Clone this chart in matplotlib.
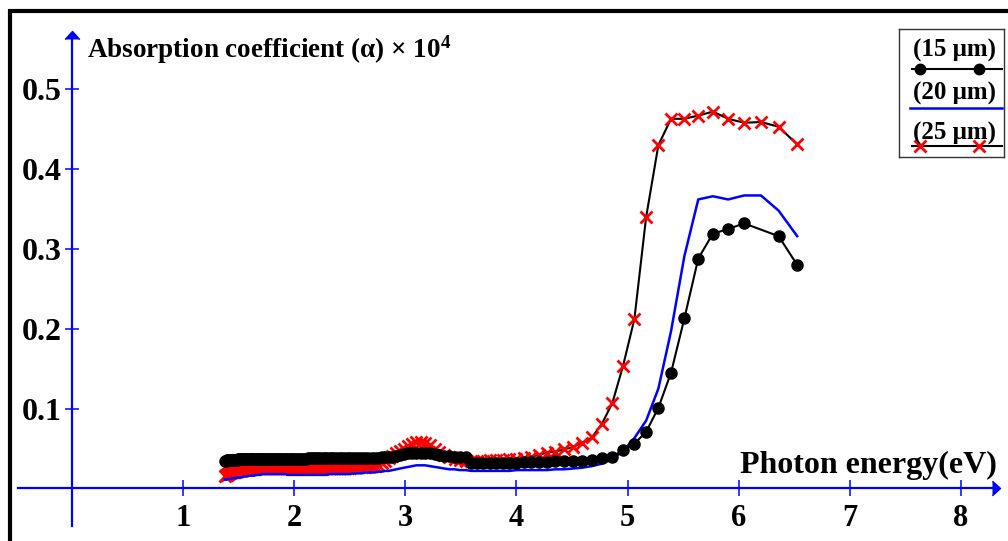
import matplotlib
matplotlib.use("Agg")
import matplotlib.pyplot as plt
import numpy as np
from matplotlib.patches import Rectangle

plt.rcParams["font.family"] = ["Liberation Serif", "DejaVu Serif"]
plt.rcParams["font.weight"] = "bold"
plt.rcParams["mathtext.fontset"] = "custom"
plt.rcParams["mathtext.rm"] = "Liberation Serif:bold"
plt.rcParams["mathtext.default"] = "rm"

# =============================================================================
# Data (photon energy in eV, absorption coefficient x 10^4)
# =============================================================================
ENERGY = [
    1.378, 1.385, 1.393, 1.401, 1.409, 1.417, 1.425, 1.434, 1.442, 1.450,
    1.459, 1.467, 1.476, 1.485, 1.494, 1.503, 1.512, 1.521, 1.531, 1.540,
    1.550, 1.560, 1.570, 1.580, 1.590, 1.600, 1.610, 1.621, 1.632, 1.642,
    1.653, 1.664, 1.676, 1.687, 1.699, 1.710, 1.722, 1.734, 1.746, 1.759,
    1.771, 1.784, 1.797, 1.810, 1.824, 1.837, 1.851, 1.865, 1.879, 1.893,
    1.908, 1.922, 1.938, 1.953, 1.968, 1.984, 2.000, 2.016, 2.033, 2.050,
    2.067, 2.084, 2.102, 2.120, 2.138, 2.157, 2.175, 2.195, 2.214, 2.234,
    2.255, 2.275, 2.296, 2.318, 2.340, 2.362, 2.385, 2.408, 2.431, 2.455,
    2.480, 2.505, 2.531, 2.557, 2.583, 2.611, 2.638, 2.667, 2.696, 2.725,
    2.756, 2.787, 2.818, 2.851, 2.884, 2.918, 2.952, 2.988, 3.024, 3.062,
    3.100, 3.139, 3.179, 3.221, 3.263, 3.307, 3.351, 3.397, 3.444, 3.493, 3.543,
    3.594, 3.647, 3.701, 3.758, 3.815, 3.875, 3.937, 4.000, 4.066,
    4.133, 4.203, 4.276, 4.351, 4.429, 4.509, 4.593, 4.679,
    4.769, 4.863, 4.960, 5.061, 5.167, 5.277, 5.391, 5.511, 5.636, 5.767,
    5.905, 6.049, 6.200, 6.359, 6.526,
]

# 15 um (black dots)
A15 = [
    0.035, 0.035, 0.036, 0.036, 0.036, 0.036, 0.036, 0.036, 0.036, 0.036,
    0.036, 0.036, 0.036, 0.036, 0.037, 0.037, 0.037, 0.037, 0.037, 0.037,
    0.037, 0.037, 0.037, 0.037, 0.037, 0.037, 0.037, 0.037, 0.037, 0.037,
    0.037, 0.037, 0.037, 0.037, 0.037, 0.037, 0.037, 0.037, 0.037, 0.037,
    0.037, 0.037, 0.037, 0.037, 0.037, 0.037, 0.037, 0.037, 0.037, 0.037,
    0.037, 0.037, 0.037, 0.037, 0.037, 0.037, 0.037, 0.037, 0.037, 0.037,
    0.037, 0.037, 0.037, 0.038, 0.038, 0.038, 0.038, 0.038, 0.038, 0.038,
    0.038, 0.038, 0.038, 0.038, 0.038, 0.038, 0.038, 0.038, 0.038, 0.038,
    0.038, 0.038, 0.038, 0.038, 0.038, 0.038, 0.038, 0.038, 0.038, 0.038,
    0.038, 0.039, 0.039, 0.040, 0.040, 0.041, 0.042, 0.043, 0.044, 0.044,
    0.045, 0.045, 0.045, 0.044, 0.043, 0.042, 0.041, 0.041, 0.040, 0.040, 0.039,
    0.032, 0.032, 0.032, 0.032, 0.032, 0.032, 0.032, 0.032, 0.033,
    0.033, 0.033, 0.033, 0.034, 0.034, 0.034, 0.035, 0.036,
    0.038, 0.040, 0.048, 0.056, 0.071, 0.101, 0.145, 0.213, 0.288, 0.319,
    0.325, 0.332, np.nan, 0.316, 0.280,
]

# 20 um (blue line)
A20 = [
    0.011, 0.011, 0.011, 0.012, 0.012, 0.012, 0.012, 0.012, 0.013, 0.013,
    0.013, 0.013, 0.013, 0.013, 0.014, 0.014, 0.014, 0.014, 0.014, 0.015,
    0.015, 0.015, 0.015, 0.015, 0.016, 0.016, 0.016, 0.016, 0.016, 0.016,
    0.017, 0.017, 0.017, 0.017, 0.017, 0.018, 0.018, 0.018, 0.018, 0.018,
    0.018, 0.018, 0.018, 0.018, 0.018, 0.018, 0.018, 0.018, 0.018, 0.018,
    0.018, 0.018, 0.017, 0.017, 0.017, 0.017, 0.017, 0.017, 0.017, 0.017,
    0.017, 0.017, 0.017, 0.017, 0.017, 0.017, 0.017, 0.017, 0.017, 0.017,
    0.017, 0.017, 0.017, 0.018, 0.018, 0.018, 0.018, 0.018, 0.018, 0.018,
    0.018, 0.018, 0.019, 0.019, 0.019, 0.019, 0.020, 0.020, 0.020, 0.020,
    0.021, 0.021, 0.022, 0.022, 0.023, 0.024, 0.025, 0.026, 0.027, 0.028,
    0.029, 0.029, 0.029, 0.028, 0.027, 0.026, 0.025, 0.024, 0.024, 0.023, 0.023,
    0.022, 0.022, 0.022, 0.022, 0.022, 0.022, 0.022, 0.023, 0.023,
    0.023, 0.023, 0.023, 0.024, 0.024, 0.025, 0.026, 0.028,
    0.031, 0.037, 0.047, 0.063, 0.085, 0.125, 0.197, 0.291, 0.362, 0.366,
    0.362, 0.367, 0.367, 0.348, 0.316,
]

# 25 um (red crosses)
A25 = [
    0.016, 0.017, 0.017, 0.018, 0.018, 0.019, 0.019, 0.020, 0.020, 0.021,
    0.021, 0.021, 0.022, 0.022, 0.022, 0.023, 0.023, 0.023, 0.024, 0.024,
    0.024, 0.025, 0.025, 0.025, 0.025, 0.025, 0.025, 0.026, 0.026, 0.026,
    0.026, 0.026, 0.026, 0.026, 0.026, 0.026, 0.026, 0.026, 0.026, 0.026,
    0.026, 0.026, 0.026, 0.026, 0.026, 0.026, 0.026, 0.026, 0.026, 0.026,
    0.026, 0.026, 0.026, 0.026, 0.026, 0.026, 0.026, 0.026, 0.026, 0.026,
    0.026, 0.026, 0.026, 0.026, 0.026, 0.026, 0.026, 0.026, 0.026, 0.026,
    0.026, 0.026, 0.026, 0.026, 0.026, 0.026, 0.026, 0.026, 0.026, 0.026,
    0.026, 0.026, 0.027, 0.027, 0.027, 0.027, 0.027, 0.028, 0.028, 0.028,
    0.030, 0.032, 0.035, 0.038, 0.041, 0.044, 0.047, 0.050, 0.053, 0.056,
    0.058, 0.058, 0.057, 0.054, 0.050, 0.046, 0.042, 0.039, 0.037, 0.036, 0.035,
    0.035, 0.035, 0.035, 0.036, 0.036, 0.036, 0.037, 0.037, 0.038,
    0.040, 0.042, 0.045, 0.046, 0.049, 0.052, 0.057, 0.064,
    0.081, 0.107, 0.154, 0.212, 0.340, 0.430, 0.463, 0.463, 0.467, 0.472,
    0.463, 0.458, 0.459, 0.453, 0.431,
]

X_TICKS = [1, 2, 3, 4, 5, 6, 7, 8]
Y_TICKS = [0.1, 0.2, 0.3, 0.4, 0.5]
LEGEND_LABELS = ["(15 μm)", "(20 μm)", "(25 μm)"]

# =============================================================================
# Figure
# =============================================================================
fig = plt.figure(figsize=(10.08, 5.41), dpi=100)
ax = fig.add_axes([0, 0, 1, 1])
ax.set_xlim(-0.647, 8.423)
ax.set_ylim(-0.0658, 0.6118)
ax.patch.set_alpha(0)

# axes crossing at the origin, blue with arrow heads
for side in ("top", "right"):
    ax.spines[side].set_visible(False)
ax.spines["left"].set_position(("data", 0))
ax.spines["bottom"].set_position(("data", 0))
ax.spines["left"].set_bounds(-0.047, 0.565)
ax.spines["bottom"].set_bounds(-0.486, 8.30)
for side in ("left", "bottom"):
    ax.spines[side].set_color("blue")
    ax.spines[side].set_linewidth(1.6)

ax.plot([8.315], [0], marker=[(-0.55, -1), (0.55, 0), (-0.55, 1)],
        ms=10.5, color="blue", clip_on=False)
ax.plot([0], [0.568], marker=[(-1, -0.55), (0, 0.55), (1, -0.55)],
        ms=10.5, color="blue", clip_on=False)

ax.set_xticks(X_TICKS)
ax.set_xticklabels([str(t) for t in X_TICKS])
ax.set_yticks(Y_TICKS)
ax.set_yticklabels([f"{t:.1f}" for t in Y_TICKS])
ax.tick_params(axis="x", direction="inout", length=12, width=1.1,
               color="blue", pad=5, labelsize=22)
ax.tick_params(axis="y", direction="inout", length=9.5, width=1.1,
               color="blue", pad=2.5, labelsize=23)
for lab in ax.get_xticklabels() + ax.get_yticklabels():
    lab.set_fontweight("bold")

# series
energy = np.array(ENERGY)
a15 = np.array(A15)
ok = ~np.isnan(a15)
ax.plot(energy, A25, color="black", lw=1.5, marker="x", ms=8,
        mec="red", mew=2, zorder=3)
ax.plot(energy, A20, color="blue", lw=1.8, zorder=4)
ax.plot(energy[ok], a15[ok], color="black", lw=1.5, marker="o", ms=8,
        zorder=5)

# labels
ax.text(8.324, 0.0198, "Photon energy(eV)", ha="right", va="baseline",
        fontsize=23, fontweight="bold")
ax.text(0.139, 0.540, r"Absorption coefficient (α) × 10$^{4}$",
        ha="left", va="baseline", fontsize=19.5, fontweight="bold")

# legend box (text above each sample line)
lax = fig.add_axes([899 / 1008, 1 - 157.3 / 541, 105 / 1008, 128 / 541])
lax.set_xlim(899, 1004)
lax.set_ylim(157.3, 29.3)
lax.set_xticks([])
lax.set_yticks([])
for s in lax.spines.values():
    s.set_linewidth(1.0)
    s.set_color("#333333")

rows = [(56.7, 69.3), (100.0, 108.3), (139.3, 146.0)]
for label, (ty, ly) in zip(LEGEND_LABELS, rows):
    lax.text(955, ty, label, ha="center", va="baseline", fontsize=18,
             fontweight="bold")
lax.plot([912, 1002], [rows[0][1]] * 2, color="black", lw=1.5)
lax.plot([920, 979], [rows[0][1]] * 2, "o", color="black", ms=7.5)
lax.plot([910, 1002], [rows[1][1]] * 2, color="blue", lw=1.8)
lax.plot([912, 1002], [rows[2][1]] * 2, color="black", lw=1.5)
lax.plot([920, 979], [rows[2][1]] * 2, "x", mec="red", mew=2, ms=8)

# outer frame
top = 1 - 11 / 541
fig.patches.append(Rectangle((9.5 / 1008, -0.1), 1.2, top + 0.1,
                             transform=fig.transFigure, fill=False,
                             lw=3, ec="black"))

fig.savefig("out.png", dpi=100)
plt.close(fig)
